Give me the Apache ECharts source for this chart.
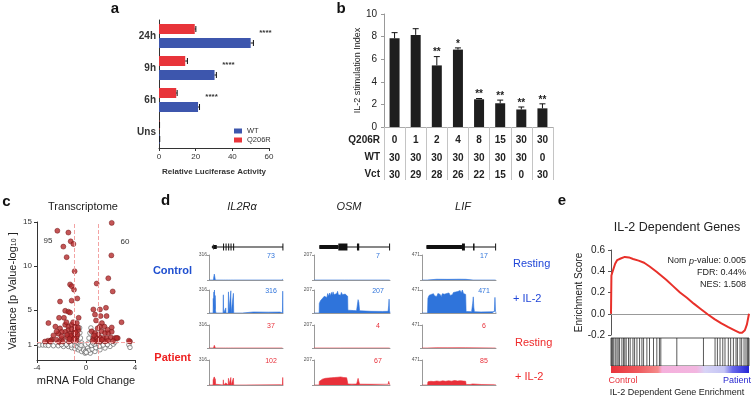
<!DOCTYPE html>
<html><head><meta charset="utf-8">
<script src="https://cdn.jsdelivr.net/npm/echarts@6/dist/echarts.min.js"></script>
<style>html,body{margin:0;padding:0;background:#fff}#c{width:754px;height:405px}</style>
</head><body><div id="c"></div>
<script>
// ---------------- DATA ----------------
// Panel a
const lucCats = ['Uns', '6h', '9h', '24h'];
const lucWT = [0.3, 21.3, 30.3, 50.0];
const lucWTErr = [0.1, 0.8, 1.0, 1.5];
const lucQ = [0.2, 9.4, 14.3, 19.5];
const lucQErr = [0.1, 0.5, 1.2, 0.6];
const lucStars = ['', '****', '****', '****'];
// Panel b
const stimQ206R = ['0', '1', '2', '4', '8', '15', '30', '30'];
const stimWT = ['30', '30', '30', '30', '30', '30', '30', '0'];
const stimVct = ['30', '29', '28', '26', '22', '15', '0', '30'];
const stimRowLabels = ['Q206R', 'WT', 'Vct'];
const stimIndex = [7.85, 8.15, 5.45, 6.85, 2.45, 2.1, 1.55, 1.65];
const stimErr = [0.5, 0.55, 0.78, 0.15, 0.07, 0.28, 0.22, 0.4];
const stimStars = ['', '', '**', '*', '**', '**', '**', '**'];
// Panel c (volcano)
const volcanoSig = [
[-2.34,14.0],[-1.44,13.8],[2.1,14.9],[-1.25,12.8],[-1.03,12.5],[-1.85,12.2],[-1.58,11.0],[2.07,11.2],
[-0.93,9.4],[1.82,8.6],[0.87,8.0],[-1.3,7.9],[-1.16,7.7],[-0.98,7.3],[2.18,7.1],[-0.71,6.3],[-2.12,5.95],
[-1.17,6.05],[1.63,5.24],[0.6,5.05],[1.14,5.05],[-1.7,4.9],[-1.44,4.8],[-1.3,4.7],[0.73,4.47],[1.19,4.3],
[1.68,4.3],[-2.2,4.1],[-1.8,4.1],[-0.6,4.1],[-3.07,3.5],[0.82,3.8],[2.9,3.6],[1.3,3.5],[1.14,3.1],[1.5,3.1],
[-2.5,3.1],[-2.12,2.9],[-1.7,3.3],[-1.44,3.1],[-1.17,3.3],[-0.9,3.1],[-1.44,2.7],[-1.17,2.8],[-0.9,2.7],
[-0.63,2.7],[-1.03,2.3],[-1.3,2.3],[-1.7,2.5],[-1.98,2.5],[-2.26,2.3],[-2.66,2.1],[-2.8,1.6],[-2.4,1.6],
[-1.98,1.7],[-1.57,1.9],[-1.17,1.9],[-0.76,1.9],[-3.1,1.5],[-2.85,1.5],[0.46,2.56],[0.73,2.37],[1.0,2.18],
[1.28,2.56],[1.55,2.37],[1.82,2.37],[2.1,2.5],[0.6,1.79],[0.87,1.79],[1.14,1.87],[1.41,1.79],[1.68,1.79],
[2.03,1.87],[2.37,1.79],[2.59,1.79],[0.82,1.41],[1.14,1.41],[1.55,1.41],[3.59,1.41],[3.5,1.5],[-3.35,1.4],
[-2.94,1.4],[2.5,1.8],[-0.8,1.5],[-1.1,1.5],[-1.4,1.4],[-1.9,1.4],[-2.2,1.35],[-0.7,2.2],[-0.85,2.45],
[-1.25,2.05],[-1.55,2.15],[-0.95,1.75],[-1.35,1.7],[-2.0,2.0],[0.55,1.5],[0.65,2.1],[1.0,1.55],[1.3,1.6],
[1.8,1.5],[2.2,1.45],[0.95,2.9],[2.1,3.0],[1.75,2.75],[-2.4,2.55],[-0.75,3.5],[-1.05,3.6],[-0.65,3.0],[-1.6,3.6]
];
const volcanoNS = [
[-3.8,1.0],[-3.53,1.0],[-3.3,1.0],[-3.07,0.95],[-2.66,0.92],[-2.26,0.92],[-1.84,0.84],[-1.44,0.84],[-1.17,0.7],
[-0.9,0.58],[-0.63,0.46],[-0.36,0.27],[-0.08,0.08],[-0.52,2.95],[-0.5,2.4],[-0.45,1.8],[-0.35,1.25],[-0.25,0.7],
[0.4,2.95],[0.32,2.37],[0.24,1.79],[0.19,1.22],[0.13,0.64],[0.35,0.08],[0.73,0.27],[1.14,0.46],[1.55,0.66],
[1.96,0.84],[2.23,1.1],[2.37,1.34],[3.5,1.03],[3.59,0.73],[-1.6,1.05],[-1.2,1.0],[-0.9,0.95],[-0.7,0.8],
[-0.5,0.65],[-0.2,0.45],[0.05,0.3],[0.25,0.4],[0.5,0.55],[0.8,0.7],[1.1,0.85],[1.4,1.0],[1.75,1.05],
[-2.0,1.05],[-0.6,1.15],[-0.4,0.95],[0.45,0.95],[0.7,1.1],[-0.75,1.3],[0.55,1.25],[-0.05,0.25],[0.02,0.15]
];
const foldCutoffs = [-1, 1];
const pCutoffs = [1.3];
const volcanoCounts = ['95', '60'];
// Panel d (tracks)
const geneNames = ['IL2Rα', 'OSM', 'LIF'];
const trackMax = [316, 207, 471];
const trackPeaks = [[73, 316, 37, 102], [7, 207, 4, 67], [17, 471, 6, 85]];
const rowLabels = ['Resting', '+ IL-2', 'Resting', '+ IL-2'];
const groupLabels = ['Control', 'Patient'];
const geneIL2RA = [[5.8,100,0],[3.5,6.5,3],[6.5,10.5,1],[19,19.9,2],[22.4,23.3,2],[25.9,26.8,2],[29.1,30,2],[32.6,33.5,2],[99.2,100,2]];
const geneOSM = [[7,99,0],[7,32,1],[32,44,2],[56.5,59.5,2],[98.8,99.6,2]];
const geneLIF = [[6,99,0],[6,54,1],[54,58,2],[69,71,2],[98.8,99.6,2]];
const il2raCtrlRest = [[0,0],[6,0],[6.5,40],[7.2,75],[8,60],[8.6,0],[19.2,0],[19.5,18],[19.8,0],[22.5,0],[22.8,14],[23.1,0],[26,0],[26.3,20],[26.6,0],[29.2,0],[29.5,22],[29.8,0],[32.7,0],[33,18],[33.3,0],[99.2,0],[99.6,14],[100,0]];
const il2raCtrlIL2 = [[0,0],[5.5,0],[5.8,200],[6.2,90],[6.6,290],[7,70],[7.4,316],[7.9,60],[8.3,240],[8.8,30],[9.4,0],[19,0],[19.4,250],[19.8,0],[22.4,0],[22.7,70],[23,0],[25.9,0],[26.3,290],[26.7,0],[29.1,0],[29.5,305],[29.9,0],[32.6,0],[33,270],[33.4,0],[45,0],[46,12],[60,14],[80,12],[96,13],[97,0],[99.2,0],[99.6,300],[100,0]];
const il2raPatRest = [[0,0],[6,0],[6.5,22],[7.2,37],[8,28],[8.6,0],[19.2,0],[19.5,10],[19.8,0],[22.5,0],[22.8,8],[23.1,0],[26,0],[26.3,12],[26.6,0],[29.2,0],[29.5,12],[29.8,0],[32.7,0],[33,10],[33.3,0],[99.2,0],[99.6,8],[100,0]];
const il2raPatIL2 = [[0,0],[5.5,0],[5.8,70],[6.2,30],[6.6,95],[7,25],[7.4,102],[7.9,20],[8.3,80],[8.8,10],[9.4,0],[19,0],[19.4,65],[19.8,0],[22.4,0],[22.7,25],[23,0],[25.9,0],[26.3,85],[26.7,0],[29.1,0],[29.5,95],[29.9,0],[32.6,0],[33,88],[33.4,0],[46,0],[47,3],[96,3],[97,0],[99.2,0],[99.6,95],[100,0]];
const osmCtrlRest = [[0,0],[40,0],[41,5],[42,0],[45,0],[46,7],[47,0],[58,0],[58.5,4],[59,0],[98.5,0],[99,5],[99.5,0]];
const osmCtrlIL2 = [[0,0],[6.8,0],[7,85],[8.5,110],[10,95],[11,130],[12.5,120],[13.5,150],[15,135],[16,165],[17,140],[18,175],[19.5,150],[20.5,180],[21.5,155],[23,185],[24,160],[25,190],[26.5,165],[27.5,180],[28.5,150],[30,175],[31,195],[32,165],[33.5,180],[35,160],[36,185],[37.5,165],[38.5,175],[40,150],[41,170],[42.5,155],[43.5,165],[44.3,150],[44.6,25],[47,20],[52,22],[56,20],[57,70],[58,120],[59,95],[60,20],[62,14],[75,15],[90,14],[97.5,15],[98.3,70],[98.8,125],[99.4,20],[100,0]];
const osmPatRest = [[0,0],[20,0],[21,3],[22,0],[35,0],[36,4],[37,0],[58,0],[58.5,3],[59,0],[98.5,0],[99,3],[99.5,0]];
const osmPatIL2 = [[0,0],[6.8,0],[7,30],[9,42],[11,48],[13,45],[15,55],[17,50],[19,58],[21,52],[23,60],[25,55],[27,62],[29,56],[31,64],[33,58],[35,67],[37,57],[39,62],[41,55],[43,60],[44.3,52],[44.6,8],[50,7],[56,8],[57,30],[58,55],[59,30],[60,7],[75,6],[97.5,6],[98.3,30],[98.8,42],[99.4,6],[100,0]];
const lifCtrlRest = [[0,0],[7,0],[7.5,12],[20,14],[35,12],[50,15],[59,13],[59.5,0],[69,0],[69.5,8],[70,0],[98.5,0],[99,10],[99.5,0]];
const lifCtrlIL2 = [[0,0],[7.5,0],[8,300],[9.5,360],[11,330],[12.5,380],[14,340],[15.5,395],[17,350],[18.5,390],[20,340],[21.5,400],[23,360],[24.5,380],[26,335],[27.5,395],[29,355],[30.5,385],[32,345],[33.5,400],[35,370],[36.5,410],[38,360],[39.5,395],[41,375],[42.5,420],[44,380],[45.5,430],[47,390],[48.5,440],[50,400],[51.5,460],[53,410],[54.5,471],[56,400],[57.5,430],[59,380],[59.6,30],[62,25],[67,28],[68.5,200],[69.3,330],[70,120],[70.8,25],[80,22],[95,24],[97.8,30],[98.6,320],[99.3,40],[100,0]];
const lifPatRest = [[0,0],[7,0],[7.5,4],[20,5],[35,4],[50,6],[59,5],[59.5,0],[98.5,0],[99,4],[99.5,0]];
const lifPatIL2 = [[0,0],[7.5,0],[8,60],[12,70],[16,65],[20,75],[24,68],[28,78],[32,70],[36,80],[40,72],[44,85],[48,75],[52,82],[56,74],[59,70],[59.6,10],[65,10],[68.5,20],[69.3,45],[70,10],[80,10],[97.8,10],[98.6,40],[99.3,10],[100,0]];
// Panel e (GSEA)
const esCurve = [[0,0],[0.003,0.36],[0.01,0.39],[0.02,0.43],[0.03,0.47],[0.045,0.505],[0.07,0.52],[0.1,0.535],[0.13,0.53],[0.16,0.515],[0.2,0.5],[0.24,0.48],[0.28,0.445],[0.33,0.395],[0.4,0.32],[0.45,0.26],[0.5,0.2],[0.55,0.15],[0.6,0.095],[0.65,0.045],[0.7,-0.005],[0.75,-0.05],[0.8,-0.09],[0.85,-0.125],[0.9,-0.158],[0.93,-0.178],[0.95,-0.178],[0.97,-0.155],[0.985,-0.1],[1.0,0]];
const geneHits = [0.005,0.012,0.02,0.031,0.043,0.052,0.062,0.079,0.091,0.1,0.11,0.127,0.139,0.159,0.171,0.188,0.207,0.224,0.236,0.26,0.279,0.308,0.332,0.351,0.361,0.477,0.67,0.754,0.771,0.79,0.81,0.826,0.85,0.867,0.887,0.906,0.916,0.935,0.947,0.964,0.978,0.988,0.995];
const gseaStats = ['Nom {i|p}-value: 0.005', 'FDR: 0.44%', 'NES: 1.508'];

// ---------------- BUILD ----------------
const FONT = '"Liberation Sans", Arial, sans-serif';
const grids = [], xAxes = [], yAxes = [], series = [], texts = [];
function addGrid(g) { grids.push(Object.assign({ outerBoundsMode: 'none', containLabel: false }, g)); return grids.length - 1; }
function T(text, x, y, o) {
  return { type: 'text', silent: true, x: x, y: y, z: 100,
    style: Object.assign({ text: text, fill: '#222', fontSize: 10, fontFamily: FONT, align: 'center', verticalAlign: 'middle' }, o || {}) };
}
const hidden = { show: false };

// ---- Panel a
const gA = addGrid({ left: 159, top: 20, width: 110, height: 128 });
xAxes.push({ gridIndex: gA, type: 'value', min: 0, max: 60, interval: 20, splitLine: hidden,
  axisLine: { show: true, lineStyle: { color: '#333' } }, axisTick: { show: true, length: 3, lineStyle: { color: '#333' } },
  axisLabel: { fontSize: 8, color: '#333', margin: 5, fontFamily: FONT },
  name: 'Relative Luciferase Activity', nameLocation: 'middle', nameGap: 20,
  nameTextStyle: { fontSize: 8, fontWeight: 'bold', color: '#333', fontFamily: FONT } });
yAxes.push({ gridIndex: gA, type: 'category', data: lucCats, axisLine: { show: true, lineStyle: { color: '#333' } },
  axisTick: hidden, axisLabel: { fontSize: 10, fontWeight: 'bold', color: '#333', margin: 3, fontFamily: FONT } });
const aX = xAxes.length - 1, aY = yAxes.length - 1;
series.push({ type: 'bar', name: 'Q206R', xAxisIndex: aX, yAxisIndex: aY, data: lucQ, barWidth: 10, barGap: '40%', itemStyle: { color: '#e8343a' } });
series.push({ type: 'bar', name: 'WT', xAxisIndex: aX, yAxisIndex: aY, data: lucWT, barWidth: 10, barGap: '40%', itemStyle: { color: '#3d56ad' } });
series.push({ type: 'custom', xAxisIndex: aX, yAxisIndex: aY, z: 5,
  data: lucCats.map((c, i) => [lucWT[i] + lucWTErr[i], i]),
  renderItem(params, api) {
    const i = params.dataIndex, ch = [];
    [[lucQ[i], lucQErr[i], -7], [lucWT[i], lucWTErr[i], 7]].forEach(([v, e, off]) => {
      const p0 = api.coord([v, i]), p1 = api.coord([v + e, i]);
      const y = p0[1] + off;
      ch.push({ type: 'line', shape: { x1: p0[0], y1: y, x2: p1[0], y2: y }, style: { stroke: '#111', lineWidth: 1 } });
      ch.push({ type: 'line', shape: { x1: p1[0], y1: y - 3, x2: p1[0], y2: y + 3 }, style: { stroke: '#111', lineWidth: 1 } });
    });
    if (lucStars[i]) {
      const p = api.coord([lucWT[i] + lucWTErr[i], i]);
      ch.push({ type: 'text', style: { text: lucStars[i], x: p[0] + 12, y: p[1] - 3, align: 'center', verticalAlign: 'middle', fontSize: 8, fontWeight: 'bold', fill: '#333', fontFamily: FONT } });
    }
    return { type: 'group', children: ch };
  } });

// ---- Panel b
const gB = addGrid({ left: 384, top: 14, width: 169, height: 113 });
xAxes.push({ gridIndex: gB, type: 'category', data: stimQ206R.map((v, i) => 'c' + i),
  axisLine: { show: true, lineStyle: { color: '#aaa' } },
  axisTick: { show: true, interval: 0, length: 53, alignWithLabel: false, lineStyle: { color: '#c4c4c4' } },
  axisLabel: { interval: 0, margin: 5, lineHeight: 17.2, fontSize: 10, fontWeight: 'bold', color: '#222', fontFamily: FONT,
    formatter: (v, i) => stimQ206R[i] + '\n' + stimWT[i] + '\n' + stimVct[i] } });
yAxes.push({ gridIndex: gB, type: 'value', min: 0, max: 10, interval: 2, splitLine: hidden,
  axisLine: { show: true, lineStyle: { color: '#999' } }, axisTick: { show: true, length: 3, lineStyle: { color: '#999' } },
  axisLabel: { fontSize: 10, color: '#222', margin: 7, fontFamily: FONT },
  name: 'IL-2 stimulation Index', nameLocation: 'middle', nameGap: 15,
  nameTextStyle: { fontSize: 9, color: '#222', fontFamily: FONT } });
const bX = xAxes.length - 1, bY = yAxes.length - 1;
series.push({ type: 'bar', xAxisIndex: bX, yAxisIndex: bY, data: stimIndex, barWidth: 10, itemStyle: { color: '#1e1e1e' } });
series.push({ type: 'custom', xAxisIndex: bX, yAxisIndex: bY, z: 5,
  data: stimIndex.map((v, i) => [i, v + stimErr[i]]),
  renderItem(params, api) {
    const i = params.dataIndex;
    const p0 = api.coord([i, stimIndex[i]]), p1 = api.coord([i, stimIndex[i] + stimErr[i]]);
    const ch = [
      { type: 'line', shape: { x1: p0[0], y1: p0[1], x2: p1[0], y2: p1[1] }, style: { stroke: '#111', lineWidth: 1 } },
      { type: 'line', shape: { x1: p1[0] - 3, y1: p1[1], x2: p1[0] + 3, y2: p1[1] }, style: { stroke: '#111', lineWidth: 1 } }
    ];
    if (stimStars[i]) ch.push({ type: 'text', style: { text: stimStars[i], x: p1[0], y: p1[1] + 1, align: 'center', verticalAlign: 'bottom', fontSize: 10, fontWeight: 'bold', fill: '#222', fontFamily: FONT } });
    return { type: 'group', children: ch };
  } });
stimRowLabels.forEach((t, r) => texts.push(T(t, 380, 140 + r * 17.2, { align: 'right', fontWeight: 'bold', fontSize: 10 })));

// ---- Panel c
const gC = addGrid({ left: 37, top: 222, width: 98, height: 138 });
xAxes.push({ gridIndex: gC, type: 'value', min: -4, max: 4, interval: 4, splitLine: hidden,
  axisLine: { show: true, onZero: false, lineStyle: { color: '#333' } }, axisTick: { show: true, length: 3, lineStyle: { color: '#333' } },
  axisLabel: { fontSize: 8, color: '#333', margin: 4, fontFamily: FONT },
  name: 'mRNA Fold Change', nameLocation: 'middle', nameGap: 15, nameTextStyle: { fontSize: 11, color: '#222', fontFamily: FONT } });
yAxes.push({ gridIndex: gC, type: 'value', min: -0.7, max: 15, splitLine: hidden,
  axisLine: { show: true, onZero: false, lineStyle: { color: '#333' } },
  axisTick: { show: true, length: 3, customValues: [1, 5, 10, 15], lineStyle: { color: '#333' } },
  axisLabel: { fontSize: 8, color: '#333', margin: 5, customValues: [1, 5, 10, 15], fontFamily: FONT },
  name: 'Variance [p Value-log{s|10} ]', nameLocation: 'middle', nameGap: 19,
  nameTextStyle: { fontSize: 11, color: '#222', fontFamily: FONT, rich: { s: { fontSize: 7, verticalAlign: 'bottom', padding: [0, 0, 0, 0] } } } });
const cX = xAxes.length - 1, cY = yAxes.length - 1;
series.push({ type: 'scatter', xAxisIndex: cX, yAxisIndex: cY, data: volcanoNS, symbolSize: 4.5,
  itemStyle: { color: '#fff', borderColor: '#555', borderWidth: 0.8 },
  markLine: { silent: true, symbol: 'none', label: hidden, animation: false,
    lineStyle: { color: '#f3a3a3', type: 'dashed', width: 1 },
    data: foldCutoffs.map(v => ({ xAxis: v })).concat(pCutoffs.map(v => ({ yAxis: v }))) } });
series.push({ type: 'scatter', xAxisIndex: cX, yAxisIndex: cY, data: volcanoSig, symbolSize: 5,
  itemStyle: { color: '#b52a2c', borderColor: '#6e1414', borderWidth: 0.6 } });
texts.push(T('Transcriptome', 83, 207, { fontSize: 11 }));
texts.push(T(volcanoCounts[0], 48, 241, { fontSize: 8, fill: '#333' }));
texts.push(T(volcanoCounts[1], 125, 242, { fontSize: 8, fill: '#333' }));

// ---- Panel d
const geneX = [[209, 74], [314, 76], [422, 74]];
const trackY = [[255, 25], [290, 23], [325, 23], [360, 25]];
const geneModels = [geneIL2RA, geneOSM, geneLIF];
const coverage = [[il2raCtrlRest, il2raCtrlIL2, il2raPatRest, il2raPatIL2], [osmCtrlRest, osmCtrlIL2, osmPatRest, osmPatIL2], [lifCtrlRest, lifCtrlIL2, lifPatRest, lifPatIL2]];
const BLUE = '#2f74db', RED = '#e8303a';
const titleX = [242, 349, 463];
geneModels.forEach((gm, g) => {
  const gi = addGrid({ left: geneX[g][0], top: 241, width: geneX[g][1], height: 12 });
  xAxes.push({ gridIndex: gi, type: 'value', min: 0, max: 100, show: false });
  yAxes.push({ gridIndex: gi, type: 'value', min: -1, max: 1, show: false });
  series.push({ type: 'custom', xAxisIndex: xAxes.length - 1, yAxisIndex: yAxes.length - 1, data: gm,
    renderItem(params, api) {
      const s = api.value(0), e = api.value(1), k = api.value(2);
      const p0 = api.coord([s, 0]), p1 = api.coord([e, 0]);
      if (k === 3) return { type: 'polygon', shape: { points: [[p0[0], p0[1]], [p1[0], p1[1] - 3], [p1[0], p1[1] + 3]] }, style: { fill: '#111' } };
      const h = k === 0 ? 1 : (k === 1 ? 4 : 7);
      return { type: 'rect', shape: { x: p0[0], y: p0[1] - h / 2, width: Math.max(1, p1[0] - p0[0]), height: h }, style: { fill: '#111' } };
    } });
  texts.push(T(geneNames[g], titleX[g], 207, { fontSize: 11, fontStyle: 'italic' }));
  coverage[g].forEach((cov, r) => {
    const ti = addGrid({ left: geneX[g][0], top: trackY[r][0], width: geneX[g][1], height: trackY[r][1] });
    xAxes.push({ gridIndex: ti, type: 'value', min: 0, max: 100, splitLine: hidden,
      axisLine: { show: true, lineStyle: { color: '#999' } }, axisTick: hidden, axisLabel: hidden });
    yAxes.push({ gridIndex: ti, type: 'value', min: 0, max: trackMax[g], interval: trackMax[g], splitLine: hidden,
      axisLine: { show: true, lineStyle: { color: '#999' } }, axisTick: { show: true, length: 2, lineStyle: { color: '#999' } },
      axisLabel: { fontSize: 5, color: '#555', margin: 2, fontFamily: FONT, formatter: v => (v === trackMax[g] ? String(v) : '') } });
    const col = r < 2 ? BLUE : RED;
    series.push({ type: 'line', xAxisIndex: xAxes.length - 1, yAxisIndex: yAxes.length - 1, data: cov,
      symbol: 'none', smooth: false, lineStyle: { color: col, width: 0.6 }, areaStyle: { color: col, opacity: 1 } });
    texts.push(T(String(trackPeaks[g][r]), geneX[g][0] + geneX[g][1] - 12, trackY[r][0] + 1, { fontSize: 7, fill: col }));
  });
});
texts.push(T(groupLabels[0], 192, 271, { align: 'right', fontWeight: 'bold', fontSize: 11, fill: '#1f4fd0' }));
texts.push(T(groupLabels[1], 191, 358, { align: 'right', fontWeight: 'bold', fontSize: 11, fill: '#ee2020' }));
const rowLabY = [264, 299, 343, 377];
rowLabels.forEach((t, r) => texts.push(T(t, r < 2 ? 513 : 515, rowLabY[r], { align: 'left', fontSize: 11, fill: r < 2 ? '#2046d8' : '#ee2a2a' })));

// ---- Panel e
const gE = addGrid({ left: 611, top: 250, width: 138, height: 85 });
xAxes.push({ gridIndex: gE, type: 'value', min: 0, max: 1, splitLine: hidden,
  axisLine: { show: true, onZero: true, lineStyle: { color: '#999' } }, axisTick: hidden, axisLabel: hidden });
yAxes.push({ gridIndex: gE, type: 'value', min: -0.2, max: 0.6, interval: 0.2, splitLine: hidden,
  axisLine: { show: true, lineStyle: { color: '#555' } }, axisTick: { show: true, length: 3, lineStyle: { color: '#555' } },
  axisLabel: { fontSize: 10, color: '#222', margin: 6, fontFamily: FONT, formatter: v => v.toFixed(1) },
  name: 'Enrichment Score', nameLocation: 'middle', nameGap: 27, nameTextStyle: { fontSize: 10, color: '#222', fontFamily: FONT } });
series.push({ type: 'line', xAxisIndex: xAxes.length - 1, yAxisIndex: yAxes.length - 1, data: esCurve, symbol: 'none',
  lineStyle: { color: '#e8302a', width: 2 } });
const gBar = addGrid({ left: 611, top: 338, width: 138, height: 28, show: true, borderColor: '#555', borderWidth: 1 });
xAxes.push({ gridIndex: gBar, type: 'value', min: 0, max: 1, show: false });
yAxes.push({ gridIndex: gBar, type: 'value', min: 0, max: 1, show: false });
series.push({ type: 'custom', xAxisIndex: xAxes.length - 1, yAxisIndex: yAxes.length - 1, data: geneHits.map(v => [v, 1]),
  renderItem(params, api) {
    const p0 = api.coord([api.value(0), 0]), p1 = api.coord([api.value(0), 1]);
    return { type: 'line', shape: { x1: p0[0], y1: p0[1], x2: p1[0], y2: p1[1] }, style: { stroke: 'rgba(20,20,20,0.7)', lineWidth: 1 } };
  } });
const gCol = addGrid({ left: 611, top: 366, width: 138, height: 7 });
xAxes.push({ gridIndex: gCol, type: 'value', min: 0, max: 1, show: false });
yAxes.push({ gridIndex: gCol, type: 'value', min: 0, max: 1, show: false });
series.push({ type: 'custom', xAxisIndex: xAxes.length - 1, yAxisIndex: yAxes.length - 1, data: [[0, 0, 1, 1]],
  renderItem(params, api) {
    const p0 = api.coord([0, 1]), p1 = api.coord([1, 0]);
    return { type: 'rect', shape: { x: p0[0], y: p0[1], width: p1[0] - p0[0], height: p1[1] - p0[1] },
      style: { fill: new echarts.graphic.LinearGradient(0, 0, 1, 0, [
        { offset: 0, color: '#e8323a' }, { offset: 0.2, color: '#ee5a5e' }, { offset: 0.34, color: '#f58a8a' },
        { offset: 0.37, color: '#f5b0dc' }, { offset: 0.62, color: '#f2b6e0' }, { offset: 0.68, color: '#d8d4f6' },
        { offset: 0.82, color: '#c4c4f4' }, { offset: 0.88, color: '#6a6aec' }, { offset: 1, color: '#2424d6' }]) } };
  } });
texts.push(T('IL-2 Dependent Genes', 677, 228, { fontSize: 12.5 }));
gseaStats.forEach((t, i) => texts.push(T(t, 746, 261 + i * 11.8, { align: 'right', fontSize: 9, rich: { i: { fontStyle: 'italic', fontSize: 9, fontFamily: FONT, fill: '#222' } } })));
texts.push(T('Control', 623, 381, { fontSize: 9, fill: '#e8303a' }));
texts.push(T('Patient', 737, 381, { fontSize: 9, fill: '#2a2ad0' }));
texts.push(T('IL-2 Dependent Gene Enrichment', 677, 393, { fontSize: 9 }));

// Panel letters
[['a', 115, 9], ['b', 341, 8.5], ['c', 6.5, 202], ['d', 165.5, 201], ['e', 562, 201]].forEach(([t, x, y]) =>
  texts.push(T(t, x, y, { fontSize: 15, fontWeight: 'bold', fill: '#111' })));

const chart = echarts.init(document.getElementById('c'), null, { renderer: 'canvas' });
chart.setOption({
  animation: false, backgroundColor: '#fff', textStyle: { fontFamily: FONT },
  grid: grids, xAxis: xAxes, yAxis: yAxes, series: series,
  legend: { data: ['WT', 'Q206R'], orient: 'vertical', left: 234, top: 127, itemWidth: 8, itemHeight: 5, itemGap: 1,
    icon: 'rect', textStyle: { fontSize: 7.5, color: '#333', lineHeight: 7, fontFamily: FONT }, padding: 0 },
  graphic: { elements: texts }
});
</script></body></html>
